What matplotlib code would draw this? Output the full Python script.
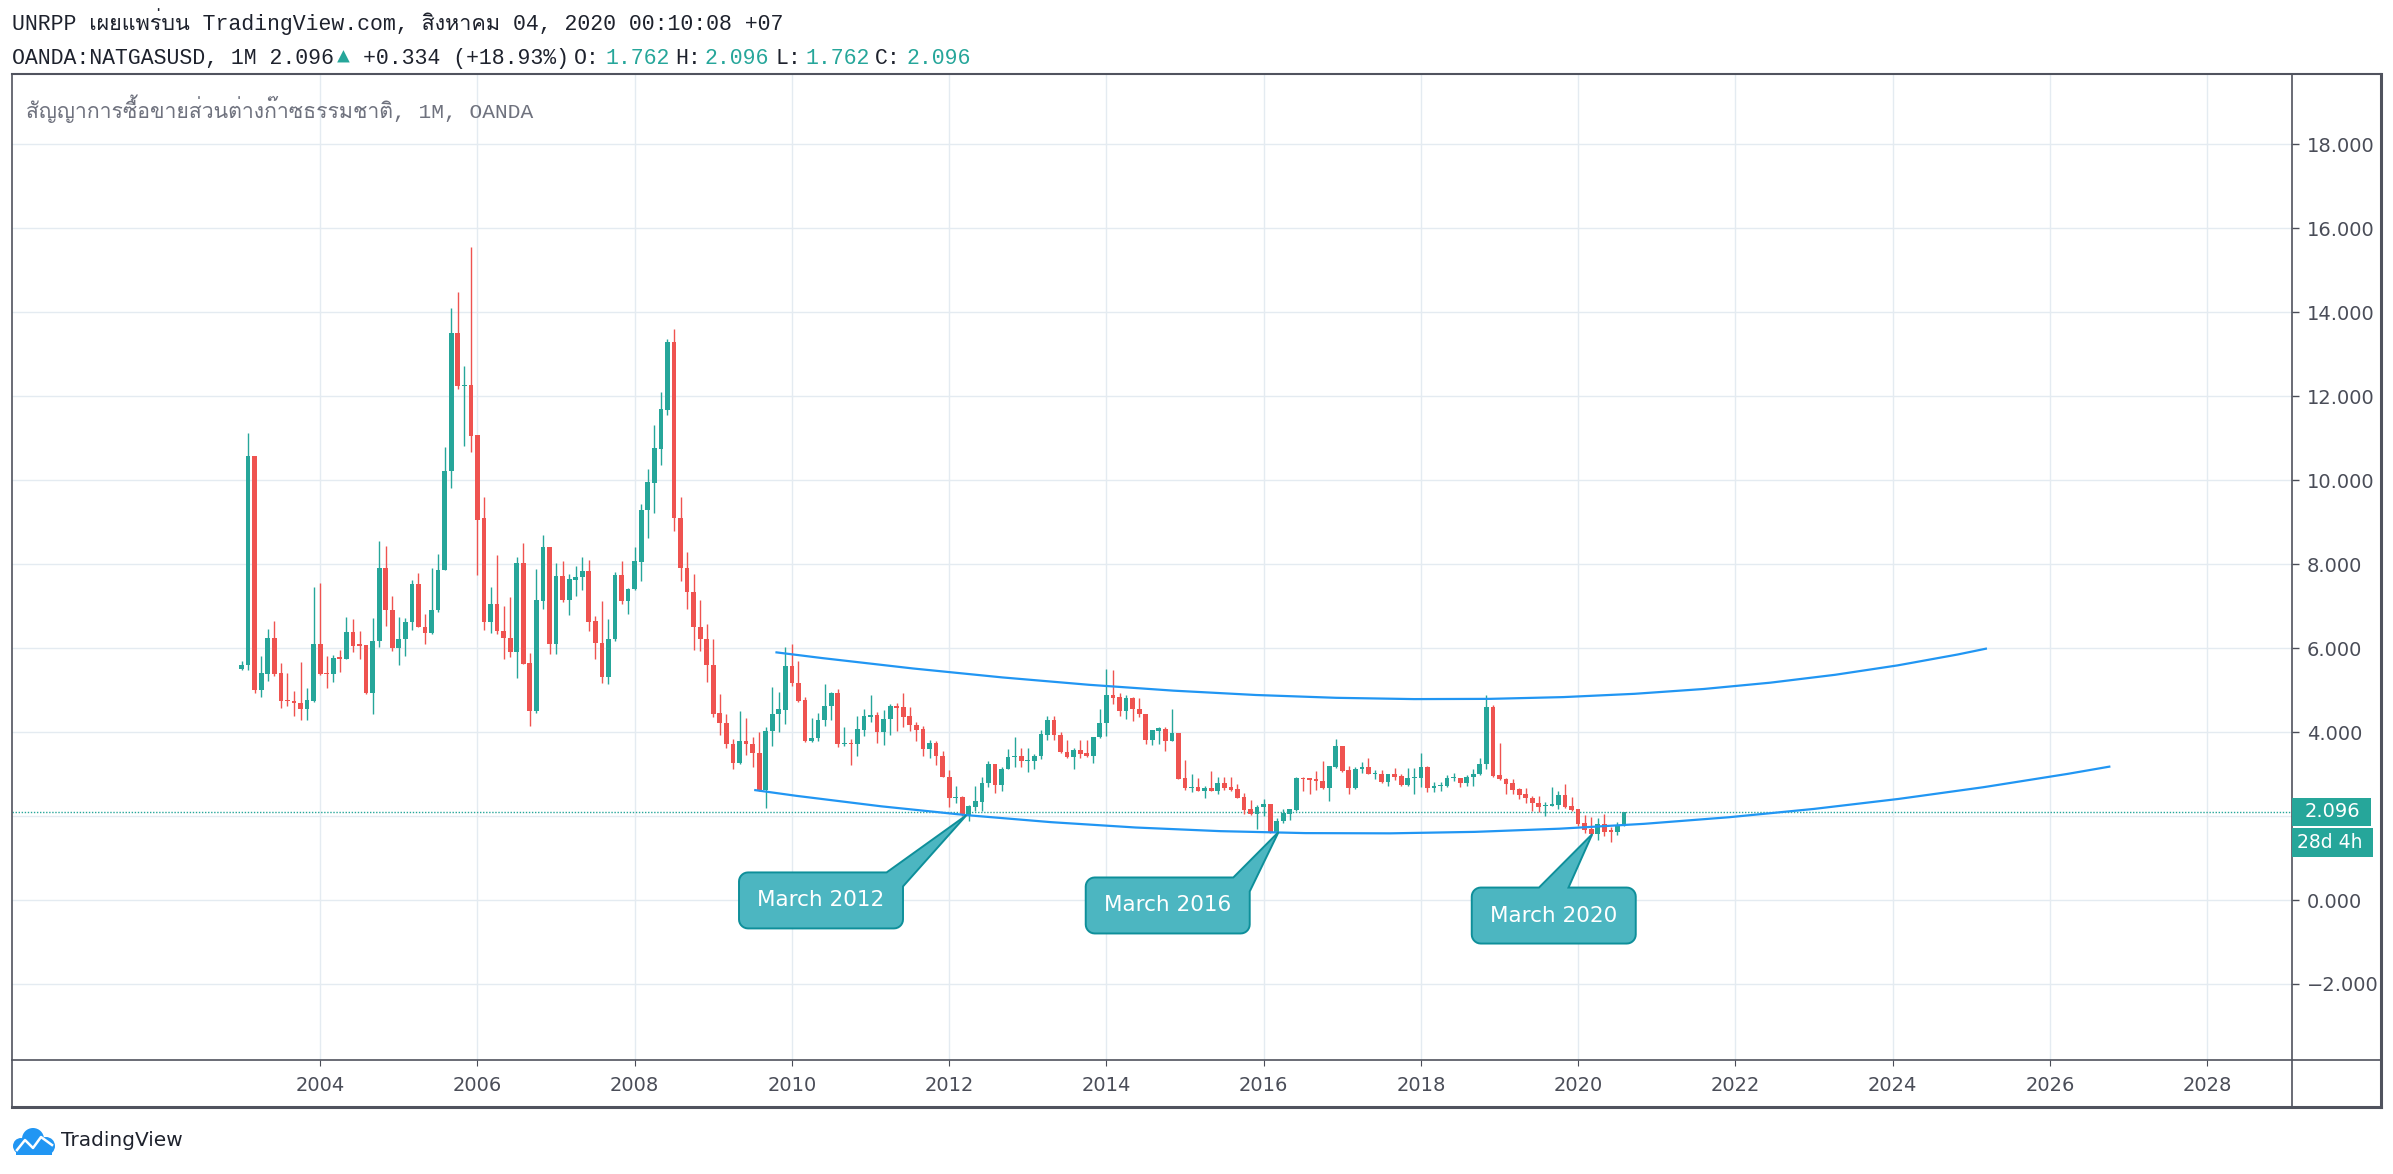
import numpy as np
import pandas as pd
import matplotlib
matplotlib.use('Agg')
import matplotlib.pyplot as plt
from matplotlib.path import Path
from matplotlib.patches import PathPatch, Rectangle, Circle
from matplotlib.lines import Line2D
from matplotlib.transforms import IdentityTransform
from matplotlib import font_manager
from matplotlib.ft2font import FT2Font

# monthly OHLC, Jan 2003 .. Aug 2020
opens = [
    5.51, 5.59, 10.58, 5.01, 5.39, 6.25, 5.41, 4.75, 4.75, 4.70, 4.54, 4.75,
    6.10, 5.40, 5.38, 5.78, 5.75, 6.39, 6.09, 6.08, 4.92, 6.16, 7.91, 6.90,
    5.99, 6.21, 6.61, 7.53, 6.51, 6.37, 6.90, 7.85, 10.21, 13.51, 12.23, 12.27,
    11.07, 9.09, 6.63, 7.06, 6.41, 6.25, 5.90, 8.03, 5.65, 4.49, 7.13, 8.41,
    6.09, 7.72, 7.15, 7.63, 7.68, 7.84, 6.65, 6.13, 5.30, 6.21, 7.75, 7.11,
    7.40, 8.06, 9.28, 9.94, 10.75, 11.68, 13.29, 9.10, 7.91, 7.34, 6.51, 6.22,
    5.60, 4.46, 4.22, 3.72, 3.27, 3.79, 3.72, 3.51, 2.63, 4.02, 4.42, 4.53,
    5.58, 5.17, 4.76, 3.79, 3.85, 4.28, 4.61, 4.94, 3.72, 3.75, 3.71, 4.06,
    4.35, 4.41, 3.99, 4.30, 4.63, 4.60, 4.37, 4.17, 4.08, 3.59, 3.75, 3.44,
    2.94, 2.42, 2.46, 2.02, 2.21, 2.34, 2.78, 3.24, 2.75, 3.11, 3.40, 3.44,
    3.30, 3.30, 3.42, 3.94, 4.29, 3.94, 3.53, 3.41, 3.58, 3.51, 3.44, 3.87,
    4.21, 4.89, 4.84, 4.49, 4.82, 4.56, 4.44, 3.80, 4.03, 4.08, 3.78, 3.98,
    2.91, 2.66, 2.70, 2.60, 2.67, 2.59, 2.79, 2.70, 2.65, 2.46, 2.17, 2.06,
    2.21, 2.29, 1.63, 1.88, 2.04, 2.15, 2.91, 2.90, 2.87, 2.84, 2.67, 3.16,
    3.67, 3.10, 2.66, 3.11, 3.17, 2.99, 3.01, 2.80, 3.01, 2.96, 2.75, 2.91,
    2.91, 3.17, 2.66, 2.72, 2.72, 2.91, 2.91, 2.78, 2.93, 3.00, 3.23, 4.60,
    2.98, 2.88, 2.79, 2.64, 2.52, 2.43, 2.32, 2.23, 2.25, 2.27, 2.51, 2.24,
    2.17, 1.83, 1.69, 1.56, 1.81, 1.64, 1.63, 1.762,
]
highs = [
    5.68, 11.13, 10.58, 5.82, 6.46, 6.65, 5.65, 5.40, 4.98, 5.67, 5.06, 7.46,
    7.56, 5.82, 5.84, 5.96, 6.75, 6.68, 6.41, 6.08, 6.71, 8.56, 8.44, 7.25,
    6.75, 6.71, 7.63, 7.79, 6.82, 7.91, 8.25, 10.79, 14.10, 14.48, 12.72, 15.54,
    11.07, 9.59, 7.46, 8.22, 7.01, 7.22, 8.16, 8.49, 5.89, 7.89, 8.70, 8.41,
    8.03, 8.08, 7.77, 7.96, 8.17, 8.10, 6.76, 7.13, 6.68, 7.82, 8.08, 7.44,
    8.41, 9.43, 10.27, 11.32, 12.10, 13.37, 13.60, 9.59, 8.29, 7.77, 7.15, 6.58,
    6.22, 4.91, 4.43, 3.84, 4.51, 4.34, 3.87, 4.01, 4.11, 5.08, 4.96, 6.03,
    6.10, 5.70, 4.84, 4.34, 4.46, 5.15, 4.96, 5.03, 4.13, 3.84, 4.37, 4.56,
    4.87, 4.48, 4.53, 4.66, 4.68, 4.94, 4.60, 4.25, 4.14, 3.82, 3.79, 3.56,
    3.10, 2.72, 2.48, 2.26, 2.72, 2.94, 3.30, 3.24, 3.16, 3.60, 3.87, 3.63,
    3.63, 3.48, 4.06, 4.38, 4.38, 4.00, 3.82, 3.63, 3.82, 3.82, 3.89, 4.54,
    5.51, 5.48, 4.94, 4.89, 4.84, 4.82, 4.44, 4.06, 4.13, 4.13, 4.56, 3.98,
    3.34, 3.01, 2.91, 2.71, 3.08, 2.94, 2.94, 2.92, 2.76, 2.56, 2.39, 2.27,
    2.41, 2.29, 1.95, 2.17, 2.17, 2.93, 2.94, 2.91, 3.08, 3.32, 3.20, 3.83,
    3.67, 3.20, 3.17, 3.29, 3.37, 3.10, 3.10, 3.01, 3.14, 3.01, 3.14, 3.14,
    3.51, 3.19, 2.82, 2.82, 2.98, 3.03, 2.91, 2.98, 3.13, 3.39, 4.87, 4.65,
    3.75, 2.90, 2.88, 2.67, 2.67, 2.48, 2.48, 2.33, 2.70, 2.60, 2.77, 2.46,
    2.17, 2.03, 1.98, 1.96, 2.06, 1.73, 1.86, 2.096,
]
lows = [
    5.48, 5.47, 4.94, 4.83, 5.22, 5.33, 4.58, 4.61, 4.37, 4.29, 4.29, 4.71,
    5.37, 5.04, 5.18, 5.42, 5.73, 5.90, 5.73, 4.90, 4.44, 6.03, 6.52, 5.94,
    5.59, 5.82, 6.44, 6.49, 6.09, 6.33, 6.87, 7.85, 9.80, 12.16, 10.82, 10.68,
    7.74, 6.43, 6.35, 6.33, 5.73, 5.78, 5.28, 5.63, 4.14, 4.45, 6.92, 5.85,
    5.87, 7.09, 6.78, 7.23, 7.39, 6.40, 5.73, 5.16, 5.14, 6.16, 7.05, 6.80,
    7.38, 7.60, 8.63, 9.21, 10.35, 11.54, 8.78, 7.60, 6.94, 5.96, 5.94, 5.18,
    4.35, 3.92, 3.63, 3.13, 3.25, 3.46, 3.16, 2.60, 2.18, 3.66, 4.00, 4.18,
    5.09, 4.71, 3.77, 3.77, 3.78, 4.14, 4.28, 3.64, 3.67, 3.22, 3.44, 3.90,
    4.23, 3.75, 3.68, 3.92, 4.03, 4.13, 4.03, 3.78, 3.44, 3.39, 3.21, 2.92,
    2.21, 2.30, 2.00, 1.87, 2.13, 2.13, 2.68, 2.56, 2.60, 3.11, 3.16, 3.17,
    3.04, 3.11, 3.35, 3.80, 3.82, 3.50, 3.39, 3.11, 3.37, 3.41, 3.27, 3.85,
    3.91, 4.66, 4.38, 4.32, 4.27, 4.35, 3.72, 3.70, 3.72, 3.54, 3.78, 2.89,
    2.63, 2.57, 2.59, 2.42, 2.59, 2.52, 2.63, 2.60, 2.44, 2.05, 2.02, 1.68,
    1.99, 1.60, 1.61, 1.83, 1.91, 2.13, 2.60, 2.52, 2.63, 2.64, 2.36, 3.14,
    3.04, 2.52, 2.64, 3.02, 2.99, 2.87, 2.79, 2.72, 2.85, 2.72, 2.71, 2.52,
    2.70, 2.58, 2.58, 2.59, 2.68, 2.83, 2.68, 2.72, 2.72, 2.98, 3.11, 2.94,
    2.85, 2.53, 2.52, 2.40, 2.32, 2.13, 2.09, 2.01, 2.24, 2.16, 2.19, 2.13,
    1.77, 1.60, 1.53, 1.44, 1.53, 1.38, 1.54, 1.762,
]
closes = [
    5.60, 10.58, 5.01, 5.41, 6.25, 5.39, 4.73, 4.73, 4.68, 4.54, 4.77, 6.10,
    5.38, 5.38, 5.77, 5.75, 6.39, 6.06, 6.06, 4.92, 6.17, 7.91, 6.90, 5.99,
    6.22, 6.63, 7.53, 6.49, 6.37, 6.91, 7.87, 10.22, 13.51, 12.23, 12.27, 11.06,
    9.06, 6.63, 7.06, 6.40, 6.23, 5.90, 8.03, 5.63, 4.49, 7.15, 8.41, 6.09,
    7.72, 7.15, 7.64, 7.70, 7.84, 6.63, 6.11, 5.30, 6.22, 7.75, 7.11, 7.41,
    8.08, 9.29, 9.96, 10.76, 11.70, 13.29, 9.09, 7.90, 7.33, 6.49, 6.21, 5.59,
    4.44, 4.21, 3.71, 3.27, 3.79, 3.71, 3.49, 2.63, 4.03, 4.43, 4.55, 5.58,
    5.16, 4.75, 3.79, 3.86, 4.29, 4.63, 4.94, 3.72, 3.75, 3.71, 4.08, 4.37,
    4.41, 3.99, 4.32, 4.63, 4.58, 4.35, 4.16, 4.06, 3.59, 3.75, 3.42, 2.92,
    2.42, 2.46, 2.02, 2.23, 2.36, 2.79, 3.25, 2.75, 3.13, 3.41, 3.44, 3.30,
    3.32, 3.44, 3.96, 4.29, 3.92, 3.52, 3.41, 3.58, 3.48, 3.44, 3.89, 4.22,
    4.89, 4.82, 4.49, 4.82, 4.54, 4.42, 3.80, 4.06, 4.09, 3.78, 3.98, 2.89,
    2.66, 2.70, 2.60, 2.66, 2.59, 2.79, 2.67, 2.63, 2.44, 2.15, 2.06, 2.22,
    2.29, 1.63, 1.88, 2.07, 2.17, 2.91, 2.87, 2.85, 2.83, 2.67, 3.20, 3.67,
    3.08, 2.66, 3.13, 3.17, 2.99, 3.01, 2.80, 3.01, 2.94, 2.75, 2.91, 2.93,
    3.17, 2.66, 2.72, 2.74, 2.91, 2.93, 2.78, 2.93, 3.01, 3.25, 4.60, 2.96,
    2.87, 2.77, 2.63, 2.51, 2.42, 2.30, 2.22, 2.27, 2.29, 2.51, 2.22, 2.15,
    1.82, 1.67, 1.56, 1.81, 1.63, 1.63, 1.762, 2.096,
]

year_ticks = list(range(2004, 2029, 2))
price_ticks = list(range(-2, 19, 2))
last_price = 2.096
countdown = '28d 4h'

# drawn curves: start, control, end (quadratic bezier like the TV curve tool)
upper_curve = [(2009.79, 5.90), (2019.3, 3.62), (2025.2, 5.99)]
lower_curve = [(2009.52, 2.62), (2018.15, 0.30), (2026.77, 3.18)]

callout_labels = ['March 2012', 'March 2016', 'March 2020']
callout_tips = [(2012.22, 2.02), (2016.19, 1.62), (2020.18, 1.57)]
callout_centers = [(2010.37, -0.01), (2014.78, -0.13), (2019.69, -0.37)]
callout_base = [(0.90, 1.0), (0.90, 1.0), (0.41, 0.59)]

header1 = 'UNRPP เผยแพร่บน TradingView.com, สิงหาคม 04, 2020 00:10:08 +07'
title = 'สัญญาการซื้อขายส่วนต่างก๊าซธรรมชาติ, 1M, OANDA'

GREEN = '#26a69a'
RED = '#ef5350'
BLUE = '#2196f3'
DARK = '#1e222d'
AXIS = '#4a4d58'
FRAME = '#50535e'
GRID = '#e4ebf1'
CALLOUT = '#4cb6c1'
CALLOUT_EDGE = '#0e8f9a'


def thai_family():
    for f in font_manager.fontManager.ttflist:
        try:
            if 0x0E01 in FT2Font(f.fname).get_charmap():
                return f.name
        except Exception:
            pass
    return None


thai = thai_family()
MONO = ['Liberation Mono', 'DejaVu Sans Mono'] + ([thai] if thai else []) + ['DejaVu Sans']

W, H = 2393, 1174
fig = plt.figure(figsize=(W / 100, H / 100), dpi=100)
fig.patch.set_facecolor('white')


def fx(px):
    return px / W


def fy(py):
    return 1 - py / H


L, R, T, B = 12, 2292, 74, 1060
ax = fig.add_axes([fx(L), fy(B), (R - L) / W, (B - T) / H])
ax.set_xlim(2000.08, 2029.08)
ax.set_ylim(-3.81, 19.67)
for s in ax.spines.values():
    s.set_visible(False)

# candles
dates = pd.date_range('2003-01-01', periods=len(opens), freq='MS')
x = np.asarray(dates.year + (dates.month - 1) / 12.0, dtype=float)
o, h, l, c = map(np.array, (opens, highs, lows, closes))
col = np.where(c >= o, GREEN, RED)
ax.vlines(x, l, h, colors=col, lw=1, zorder=3)
ax.bar(x, np.maximum(np.abs(c - o), 0.03), bottom=np.minimum(o, c),
       width=0.72 / 12, color=col, lw=0, zorder=4)

# grid / ticks (the tick label next to the last price is hidden by its tag)
ax.set_xticks(year_ticks)
ax.set_xticklabels([str(y) for y in year_ticks])
ax.set_yticks(price_ticks)
ax.set_yticklabels(['' if abs(v - last_price) < 0.5 else f'{v:.3f}'.replace('-', '\u2212')
                    for v in price_ticks])
ax.yaxis.tick_right()
ax.grid(True, color=GRID, lw=1)
ax.set_axisbelow(True)
ax.tick_params(axis='y', direction='out', length=5, width=1, color=AXIS,
               pad=5.5, labelsize=14, labelcolor=AXIS)
ax.tick_params(axis='x', direction='out', length=4.5, width=0.8, color=AXIS,
               pad=7, labelsize=14, labelcolor=AXIS)

# last price line
ax.axhline(last_price, color=GREEN, lw=1, ls=(0, (1, 1.2)), zorder=2)

# curves
for pts in (upper_curve, lower_curve):
    p = Path(pts, [Path.MOVETO, Path.CURVE3, Path.CURVE3])
    ax.add_patch(PathPatch(p, fill=False, ec=BLUE, lw=1.6, zorder=5))

# frame
def fline(x0, y0, x1, y1, lw=1.2):
    fig.add_artist(Line2D([fx(x0), fx(x1)], [fy(y0), fy(y1)], color=FRAME, lw=lw))


fline(12, 74, 2381, 74, 1.5)
fline(12, 74, 12, 1107, 1.2)
fline(2381, 74, 2381, 1107, 2.2)
fline(12, 1107, 2381, 1107, 2.2)
fline(2292, 74, 2292, 1107, 1.2)
fline(12, 1060, 2381, 1060, 1.2)

# price labels on the axis
ID = IdentityTransform()
yd = ax.transData.transform((2010, last_price))[1]
fig.add_artist(Rectangle((2292, yd - 14), 79, 28, transform=ID, fc=GREEN, ec='none', zorder=8))
fig.text(2305, yd, f'{last_price:.3f}', transform=ID, va='center', ha='left',
         color='white', fontsize=14, zorder=9)
fig.add_artist(Rectangle((2292, yd - 45), 81, 29, transform=ID, fc=GREEN, ec='none', zorder=8))
fig.text(2297, yd - 30.5, countdown, transform=ID, va='center', ha='left',
         color='white', fontsize=13.5, zorder=9)


# callouts
def callout_path(x0, x1, yb, yt, bx0, bx1, tip, r=9):
    def arc(cx, cy, a0, a1):
        a = np.radians(np.linspace(a0, a1, 8))
        return list(zip(cx + r * np.cos(a), cy + r * np.sin(a)))
    pts = []
    pts += arc(x0 + r, yb + r, 180, 270)
    pts += arc(x1 - r, yb + r, 270, 360)
    if bx1 >= x1 - r:
        pts += [(x1, yt - 14), tip, (bx0, yt)]
    else:
        pts += arc(x1 - r, yt - r, 0, 90)
        pts += [(bx1, yt), tip, (bx0, yt)]
    pts += arc(x0 + r, yt - r, 90, 180)
    pts.append(pts[0])
    codes = [Path.MOVETO] + [Path.LINETO] * (len(pts) - 2) + [Path.CLOSEPOLY]
    return Path(pts, codes)


bw, bh = 164, 56
for text, tip, cen, base in zip(callout_labels, callout_tips, callout_centers, callout_base):
    tx, ty = ax.transData.transform(tip)
    cx, cy = ax.transData.transform(cen)
    x0, x1 = cx - bw / 2, cx + bw / 2
    yb, yt = cy - bh / 2, cy + bh / 2
    path = callout_path(x0, x1, yb, yt, x0 + base[0] * bw, x0 + base[1] * bw, (tx, ty))
    fig.add_artist(PathPatch(path, transform=ID, fc=CALLOUT, ec=CALLOUT_EDGE,
                             lw=1.4, zorder=6))
    fig.text(cx, cy, text, transform=ID, ha='center', va='center',
             color='white', fontsize=15.5, zorder=7)

# header texts
fig.text(fx(12), fy(30), header1, family=MONO, fontsize=15.5, color=DARK, va='baseline')
legend = [
    ('OANDA:NATGASUSD, 1M 2.096', DARK, 12),
    ('\u25b2', GREEN, 337),
    ('+0.334 (+18.93%)', DARK, 363),
    ('O:', DARK, 574), (f'{opens[-1]:.3f}', GREEN, 605),
    ('H:', DARK, 675), (f'{highs[-1]:.3f}', GREEN, 705),
    ('L:', DARK, 775), (f'{lows[-1]:.3f}', GREEN, 805),
    ('C:', DARK, 875), (f'{closes[-1]:.3f}', GREEN, 906),
]
for txt, colr, px in legend:
    fig.text(fx(px), fy(64), txt, family=MONO, fontsize=15.5, color=colr, va='baseline')

fig.text(fx(26), fy(118), title, family=MONO, fontsize=15.3, color='#6f727e', va='baseline')

# TradingView mark
for cxp, cyp, rr in [(21, 1146, 8), (33, 1139, 11), (46, 1146, 9)]:
    fig.add_artist(Circle((cxp, H - cyp), rr, transform=ID, fc=BLUE, ec='none'))
fig.add_artist(Rectangle((16, H - 1155), 36, 10, transform=ID, fc=BLUE, ec='none'))
fig.add_artist(Line2D([17, 25, 33, 41, 52], [H - 1150, H - 1140, H - 1148, H - 1137, H - 1145],
                      transform=ID, color='white', lw=1.8))
fig.text(fx(61), fy(1141), 'TradingView', fontsize=14.5, color=DARK, va='center')

fig.savefig('out.png', dpi=100, facecolor='white')
